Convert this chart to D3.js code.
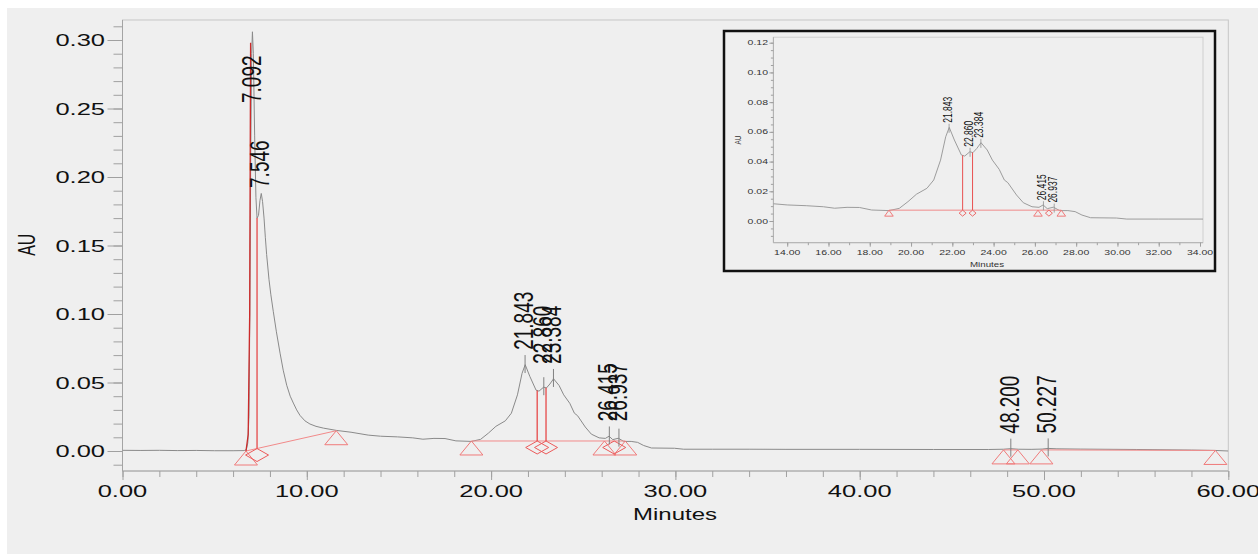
<!DOCTYPE html>
<html><head><meta charset="utf-8">
<script src="https://cdn.jsdelivr.net/npm/d3@7"></script>
<style>html,body{margin:0;padding:0;background:#fff;}svg{display:block;font-family:"Liberation Sans",Arial,sans-serif;}</style>
</head><body><svg id="c" width="1258" height="554"></svg>
<script>
// ---------------- data ----------------
const traceTime = [0.0,1.0,2.0,3.0,4.0,5.0,6.0,6.6,6.72,6.80,6.86,6.91,6.96,7.01,7.05,7.10,7.17,7.24,7.30,7.38,7.46,7.53,7.60,7.68,7.75,7.82,7.95,8.05,8.18,8.35,8.55,8.72,8.91,9.10,9.27,9.45,9.63,9.90,10.17,10.5,10.9,11.62,12.4,13.33,14.0,14.92,15.75,16.3,16.9,17.5,18.09,18.93,19.43,19.85,20.26,20.77,21.10,21.43,21.68,21.85,22.10,22.44,22.60,22.85,23.00,23.19,23.39,23.69,23.94,24.27,24.52,24.69,25.11,25.44,25.86,26.20,26.40,26.60,26.90,27.20,27.60,27.95,28.28,28.70,29.95,30.45,32.0,34.0,36.0,40.0,44.0,47.0,47.8,48.2,48.6,49.3,49.9,50.227,50.7,52.0,55.0,58.0,59.3,60.0];
const traceAU = [0.0005,0.0004,0.0005,0.0003,0.0004,0.0002,0.0002,0.0003,0.001,0.006,0.025,0.10,0.22,0.29,0.306,0.29,0.23,0.185,0.170,0.172,0.183,0.188,0.182,0.170,0.156,0.1435,0.125,0.114,0.102,0.087,0.0714,0.059,0.048,0.040,0.035,0.030,0.026,0.022,0.0197,0.018,0.0167,0.0150,0.0137,0.0116,0.0108,0.0103,0.0096,0.0086,0.0092,0.0091,0.0074,0.0070,0.0085,0.013,0.018,0.022,0.0276,0.041,0.0567,0.0630,0.0545,0.0444,0.0437,0.0466,0.0460,0.0489,0.0527,0.0478,0.0410,0.0348,0.0276,0.0258,0.0175,0.0123,0.0096,0.0092,0.0108,0.0083,0.0093,0.0070,0.0070,0.0063,0.0040,0.0022,0.0020,0.0013,0.0013,0.0013,0.0012,0.0012,0.0011,0.0011,0.0013,0.0017,0.0013,0.0012,0.0014,0.0019,0.0016,0.0014,0.0011,0.0007,0.0004,0.0];

// leading red edge of the first peak
const edgeTime = [6.70,6.82,6.90,6.95];
const edgeAU = [0.0,0.012,0.10,0.298];

const peakLabels = ["7.092","7.546","21.843","22.860","23.384","26.415","26.937","48.200","50.227"];
const insetPeakLabels = ["21.843","22.860","23.384","26.415","26.937"];

const eventTimes = [6.70,11.60,18.93,26.15,27.28,47.80,48.58,49.86,59.30];
const eventAU = [0.0000,0.0148,0.0073,0.0073,0.0073,0.0008,0.0008,0.0008,0.0004];
const valleyTimes = [7.30,22.50,22.98,26.68];
const valleyAU = [0.0018,0.0073,0.0073,0.0073];
const dropTimes = [7.30,22.50,22.98];
const dropBaseAU = [0.0018,0.0073,0.0073];
const baseStartT = [6.70,18.93,47.80,49.86];
const baseStartAU = [0.0000,0.0073,0.0008,0.0008];
const baseEndT = [11.60,27.28,48.58,59.30];
const baseEndAU = [0.0148,0.0073,0.0008,0.0004];

const xTickLabels = ["0.00","10.00","20.00","30.00","40.00","50.00","60.00"];
const yTickLabels = ["0.00","0.05","0.10","0.15","0.20","0.25","0.30"];
const insetXTickLabels = ["14.00","16.00","18.00","20.00","22.00","24.00","26.00","28.00","30.00","32.00","34.00"];
const insetYTickLabels = ["0.00","0.02","0.04","0.06","0.08","0.10","0.12"];

// ---------------- drawing ----------------
const svg = d3.select("#c");
svg.append("rect").attr("width",1258).attr("height",554).attr("fill","#fff");
svg.append("rect").attr("x",7).attr("y",8).attr("width",1251).attr("height",546).attr("fill","#efefef");

const au = d3.scaleLinear().domain(traceTime).range(traceAU);
const FONT = 1.5; // horizontal stretch of the source picture

function stext(g, px, py, str, size, anchor, opts={}) {
  const gg = g.append("g").attr("transform", `translate(${px},${py}) scale(${FONT},1)` + (opts.rot ? " rotate(-90)" : ""));
  gg.append("text").attr("text-anchor", anchor).attr("font-size", size)
    .attr("dy", opts.dy || 0).attr("fill", opts.fill || "#111").text(str);
  return gg;
}
function tri(g, px, py, w, h, col) {
  g.append("path").attr("d", `M${px},${py}L${px + w/2},${py + h}L${px - w/2},${py + h}Z`)
    .attr("fill","none").attr("stroke",col).attr("stroke-width",1);
}
function dia(g, px, py, w, h, col) {
  g.append("path").attr("d", `M${px},${py}L${px + w/2},${py + h/2}L${px},${py + h}L${px - w/2},${py + h/2}Z`)
    .attr("fill","none").attr("stroke",col).attr("stroke-width",1);
}

// ===== main chart =====
const x = d3.scaleLinear().domain([0,60]).range([122.5,1228.3]);
const y = d3.scaleLinear().domain([0,0.30]).range([451,40]);
const yLo = -0.0146, yHi = 0.3146;
const pTop = y(yHi), pBot = y(yLo);

const main = svg.append("g");
main.append("rect").attr("x",x(0)).attr("y",pTop).attr("width",x(60)-x(0)).attr("height",pBot-pTop)
  .attr("fill","none").attr("stroke","#c6c6c6");
main.append("line").attr("x1",x(0)).attr("x2",x(0)).attr("y1",pTop).attr("y2",pBot).attr("stroke","#a4a4a4");
main.append("line").attr("x1",x(0)).attr("x2",x(60)).attr("y1",pBot).attr("y2",pBot).attr("stroke","#a4a4a4");

const yMajorVals = yTickLabels.map(Number);
const yMinorVals = d3.range(-1,32).map(i => i/100);
function styleAxis(g){ g.select(".domain").remove(); g.selectAll(".tick line").attr("stroke","#a0a0a0"); }
main.append("g").attr("transform",`translate(${x(0)},0)`)
  .call(d3.axisLeft(y).tickValues(yMinorVals).tickSize(9).tickFormat("")).call(styleAxis);
main.append("g").attr("transform",`translate(${x(0)},0)`)
  .call(d3.axisLeft(y).tickValues(yMajorVals).tickSize(15).tickFormat("")).call(styleAxis);
const xMajorVals = xTickLabels.map(Number);
const xMinorVals = d3.range(0,61,2);
main.append("g").attr("transform",`translate(0,${pBot})`)
  .call(d3.axisBottom(x).tickValues(xMinorVals).tickSize(6).tickFormat("")).call(styleAxis);
main.append("g").attr("transform",`translate(0,${pBot})`)
  .call(d3.axisBottom(x).tickValues(xMajorVals).tickSize(9).tickFormat("")).call(styleAxis);

yTickLabels.forEach(l => stext(main, 105, y(+l), l, 17, "end", {dy:"0.36em"}));
xTickLabels.forEach(l => stext(main, x(+l), 497, l, 17, "middle"));
stext(main, 675, 520, "Minutes", 16, "middle");
stext(main, 26.7, 244.7, "AU", 16, "middle", {rot:true, dy:"0.36em"});

main.append("clipPath").attr("id","mclip").append("rect")
  .attr("x",x(0)).attr("y",pTop).attr("width",x(60)-x(0)).attr("height",pBot-pTop);
const mc = main.append("g").attr("clip-path","url(#mclip)");
const line = d3.line().x(i => x(traceTime[i])).y(i => y(traceAU[i]));
mc.append("path").attr("d", line(d3.range(traceTime.length))).attr("fill","none").attr("stroke","#8a8a8a").attr("stroke-width",1);

// baselines
baseStartT.forEach((t,i) => mc.append("line").attr("x1",x(t)).attr("y1",y(baseStartAU[i]))
  .attr("x2",x(baseEndT[i])).attr("y2",y(baseEndAU[i])).attr("stroke","#f28a8a").attr("stroke-width",1));
// red leading edge
mc.append("path").attr("d", d3.line().x(i=>x(edgeTime[i])).y(i=>y(edgeAU[i]))(d3.range(edgeTime.length)))
  .attr("fill","none").attr("stroke","#cc2a2a").attr("stroke-width",1.3);
// drop lines
dropTimes.forEach((t,i) => mc.append("line").attr("x1",x(t)).attr("x2",x(t)).attr("y1",y(au(t))).attr("y2",y(dropBaseAU[i]))
  .attr("stroke","#e53b3b").attr("stroke-width",1.2));
// markers
eventTimes.forEach((t,i) => tri(main, x(t), y(eventAU[i]), 23, 14, "#f07a7a"));
valleyTimes.forEach((t,i) => dia(main, x(t), y(valleyAU[i]), 23, 13, "#ec5a5a"));

// peak labels
const labelAnchorAU = {"7.092":0.254, "7.546":0.192};
peakLabels.forEach(l => {
  const t = +l;
  let bottomY;
  if (labelAnchorAU[l] !== undefined) bottomY = y(labelAnchorAU[l]);
  else {
    const m = d3.max(d3.range(t-0.55, t+0.551, 0.01), tt => au(tt));
    bottomY = y(m) - 15;
    const ay = y(au(t));
    main.append("line").attr("x1",x(t)).attr("x2",x(t)).attr("y1",ay-10).attr("y2",ay+8)
      .attr("stroke","#808080").attr("stroke-width",1);
  }
  stext(main, x(t)-2.5, bottomY, l, 19, "start", {rot:true, dy:"0.36em"});
});

// ===== inset =====
const ins = svg.append("g");
ins.append("rect").attr("x",724).attr("y",31).attr("width",491).attr("height",240)
  .attr("fill","#efefef").attr("stroke","#111").attr("stroke-width",2.5);
const xi = d3.scaleLinear().domain([14,34]).range([787.2,1200]);
const yi = d3.scaleLinear().domain([0,0.12]).range([221,42.7]);
const xiLo = xi.invert(773.4), xiHi = xi.invert(1203);
const yiLo = -0.0146, yiHi = 0.1237;
const it = yi(yiHi), ib = yi(yiLo);
ins.append("rect").attr("x",xi(xiLo)).attr("y",it).attr("width",xi(xiHi)-xi(xiLo)).attr("height",ib-it)
  .attr("fill","none").attr("stroke","#cfcfcf");
ins.append("line").attr("x1",xi(xiLo)).attr("x2",xi(xiLo)).attr("y1",it).attr("y2",ib).attr("stroke","#b0b0b0");
ins.append("line").attr("x1",xi(xiLo)).attr("x2",xi(xiHi)).attr("y1",ib).attr("y2",ib).attr("stroke","#b0b0b0");
ins.append("g").attr("transform",`translate(${xi(xiLo)},0)`)
  .call(d3.axisLeft(yi).tickValues(d3.range(-2,25).map(i=>i*0.005)).tickSize(2.5).tickFormat("")).call(styleAxis);
ins.append("g").attr("transform",`translate(${xi(xiLo)},0)`)
  .call(d3.axisLeft(yi).tickValues(insetYTickLabels.map(Number)).tickSize(4).tickFormat("")).call(styleAxis);
ins.append("g").attr("transform",`translate(0,${ib})`)
  .call(d3.axisBottom(xi).tickValues(d3.range(14,35,1)).tickSize(2.5).tickFormat("")).call(styleAxis);
ins.append("g").attr("transform",`translate(0,${ib})`)
  .call(d3.axisBottom(xi).tickValues(insetXTickLabels.map(Number)).tickSize(4).tickFormat("")).call(styleAxis);
insetYTickLabels.forEach(l => stext(ins, 768, yi(+l), l, 7, "end", {dy:"0.36em", fill:"#333"}));
insetXTickLabels.forEach(l => stext(ins, xi(+l), 255, l, 7, "middle", {fill:"#333"}));
stext(ins, 987, 266.5, "Minutes", 6.5, "middle", {fill:"#333"});
stext(ins, 737, 140, "AU", 6.5, "middle", {rot:true, dy:"0.36em", fill:"#333"});

ins.append("clipPath").attr("id","iclip").append("rect")
  .attr("x",xi(xiLo)).attr("y",it).attr("width",xi(xiHi)-xi(xiLo)).attr("height",ib-it);
const ic = ins.append("g").attr("clip-path","url(#iclip)");
const iline = d3.line().x(i => xi(traceTime[i])).y(i => yi(traceAU[i]));
ic.append("path").attr("d", iline(d3.range(traceTime.length))).attr("fill","none").attr("stroke","#9c9c9c").attr("stroke-width",1);
baseStartT.forEach((t,i) => ic.append("line").attr("x1",xi(t)).attr("y1",yi(baseStartAU[i]))
  .attr("x2",xi(baseEndT[i])).attr("y2",yi(baseEndAU[i])).attr("stroke","#f08a8a").attr("stroke-width",1));
dropTimes.forEach((t,i) => ic.append("line").attr("x1",xi(t)).attr("x2",xi(t)).attr("y1",yi(au(t))).attr("y2",yi(dropBaseAU[i]))
  .attr("stroke","#e85050").attr("stroke-width",1));
eventTimes.forEach((t,i) => { if (t > xiLo && t < xiHi) tri(ic, xi(t), yi(eventAU[i]), 8.6, 6, "#f07a7a"); });
valleyTimes.forEach((t,i) => { if (t > xiLo && t < xiHi) dia(ic, xi(t), yi(valleyAU[i]), 7, 6, "#ec6a6a"); });
insetPeakLabels.forEach(l => {
  const t = +l, ay = yi(au(t));
  ins.append("line").attr("x1",xi(t)).attr("x2",xi(t)).attr("y1",ay-4).attr("y2",ay+5)
    .attr("stroke","#909090").attr("stroke-width",0.8);
  stext(ins, xi(t)-2, ay-5, l, 8.5, "start", {rot:true, dy:"0.36em"});
});
</script></body></html>
